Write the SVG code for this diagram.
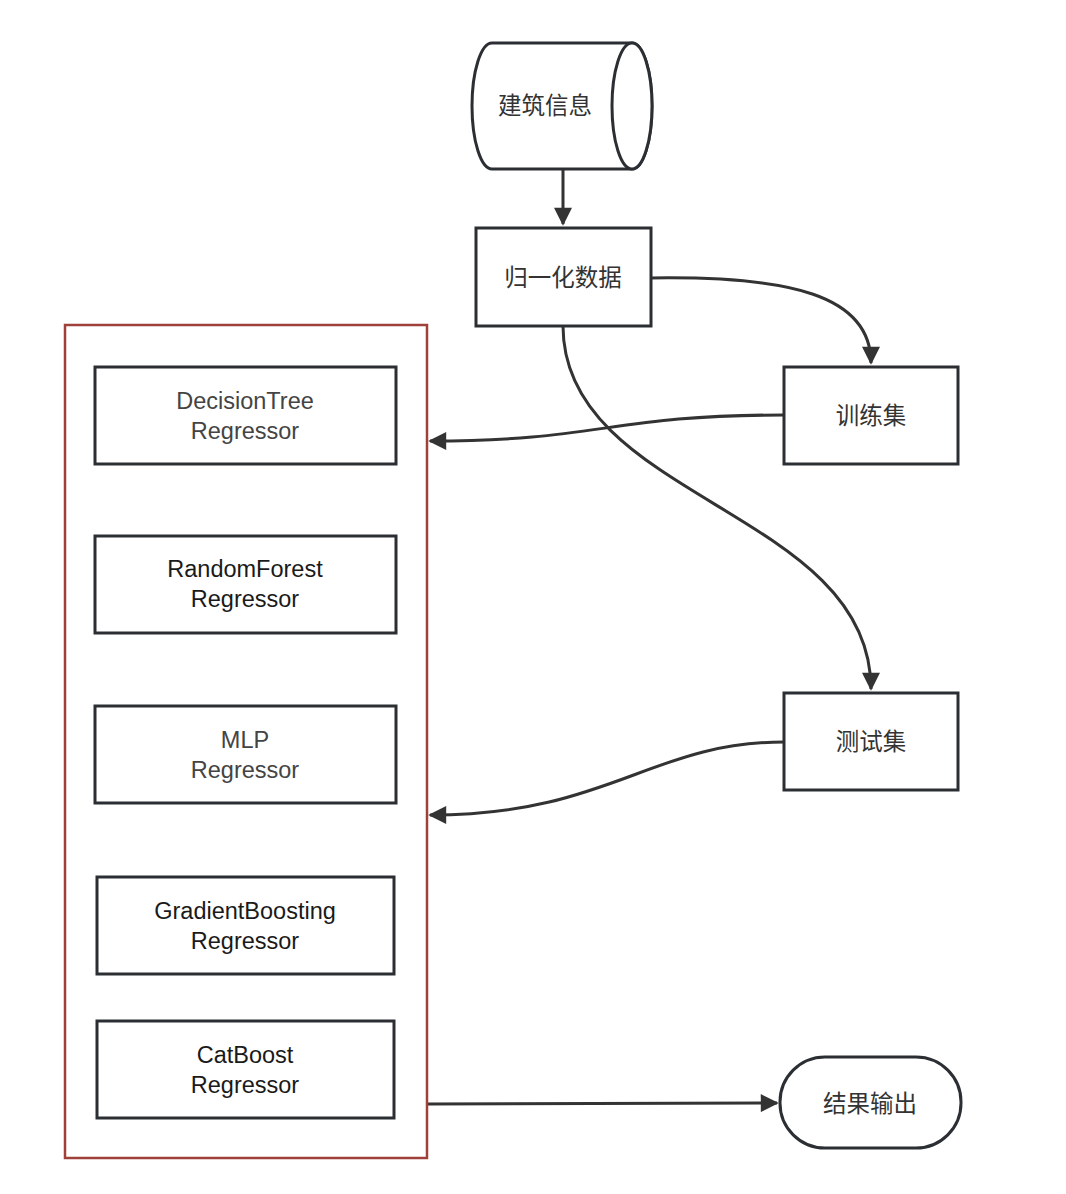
<svg xmlns="http://www.w3.org/2000/svg" width="1066" height="1194" viewBox="0 0 1066 1194">
  <style>
    .node { fill: #ffffff; stroke: #2b2f33; stroke-width: 3; }
    .group { fill: none; stroke: #a0403a; stroke-width: 2.5; }
    .edge { fill: none; stroke: #333333; stroke-width: 3; }
    .cn { font-family: "Noto Sans CJK SC", "Noto Sans", sans-serif; font-size: 23.5px; fill: #333333; text-anchor: middle; }
    .en { font-family: "Liberation Sans", Arial, sans-serif; font-size: 23.5px; fill: #1a1a1a; text-anchor: middle; }
    .en.light { fill: #444444; }
  </style>
  <defs>
    <marker id="arrow" viewBox="0 0 10 10" refX="9" refY="5" markerWidth="7.5" markerHeight="6" markerUnits="strokeWidth" orient="auto">
      <path d="M0,0 L10,5 L0,10 z" fill="#333333"/>
    </marker>
  </defs>
  <rect width="1066" height="1194" fill="#ffffff"/>

  <!-- connectors -->
  <g id="connectors">
    <path class="edge" d="M563,169 L563,224" marker-end="url(#arrow)"/>
    <path class="edge" d="M651,278 C790,276 871,295 871,363" marker-end="url(#arrow)"/>
    <path class="edge" d="M563,326 C563,500 871,510 871,689" marker-end="url(#arrow)"/>
    <path class="edge" d="M784,415 C610,415 600,441 430,441" marker-end="url(#arrow)"/>
    <path class="edge" d="M784,742 C650,742 610,815 430,815" marker-end="url(#arrow)"/>
    <path class="edge" d="M428,1104 L777,1103" marker-end="url(#arrow)"/>
  </g>

  <!-- data source cylinder -->
  <g id="building-info">
    <path class="node" d="M492,43 L632,43 A20,63 0 0 1 632,169 L492,169 A20,63 0 0 1 492,43 z"/>
    <ellipse class="node" cx="632" cy="106" rx="20" ry="63"/>
    <text class="cn" x="545" y="114">建筑信息</text>
  </g>

  <g id="normalize">
    <rect class="node" x="476" y="228" width="175" height="98"/>
    <text class="cn" x="563" y="286">归一化数据</text>
  </g>

  <g id="train-set">
    <rect class="node" x="784" y="367" width="174" height="97"/>
    <text class="cn" x="871" y="424">训练集</text>
  </g>

  <g id="test-set">
    <rect class="node" x="784" y="693" width="174" height="97"/>
    <text class="cn" x="871" y="750">测试集</text>
  </g>

  <g id="output">
    <rect class="node" x="780" y="1057" width="181" height="91" rx="45" ry="45"/>
    <text class="cn" x="870" y="1112">结果输出</text>
  </g>

  <!-- model container -->
  <g id="models">
    <rect class="group" x="65" y="325" width="362" height="833"/>

    <g id="decision-tree">
      <rect class="node" x="95" y="367" width="301" height="97"/>
      <text class="en light" x="245" y="409">DecisionTree</text>
      <text class="en light" x="245" y="439">Regressor</text>
    </g>
    <g id="random-forest">
      <rect class="node" x="95" y="536" width="301" height="97"/>
      <text class="en" x="245" y="577">RandomForest</text>
      <text class="en" x="245" y="607">Regressor</text>
    </g>
    <g id="mlp">
      <rect class="node" x="95" y="706" width="301" height="97"/>
      <text class="en light" x="245" y="748">MLP</text>
      <text class="en light" x="245" y="778">Regressor</text>
    </g>
    <g id="gradient-boosting">
      <rect class="node" x="97" y="877" width="297" height="97"/>
      <text class="en" x="245" y="919">GradientBoosting</text>
      <text class="en" x="245" y="949">Regressor</text>
    </g>
    <g id="catboost">
      <rect class="node" x="97" y="1021" width="297" height="97"/>
      <text class="en" x="245" y="1063">CatBoost</text>
      <text class="en" x="245" y="1093">Regressor</text>
    </g>
  </g>
</svg>
